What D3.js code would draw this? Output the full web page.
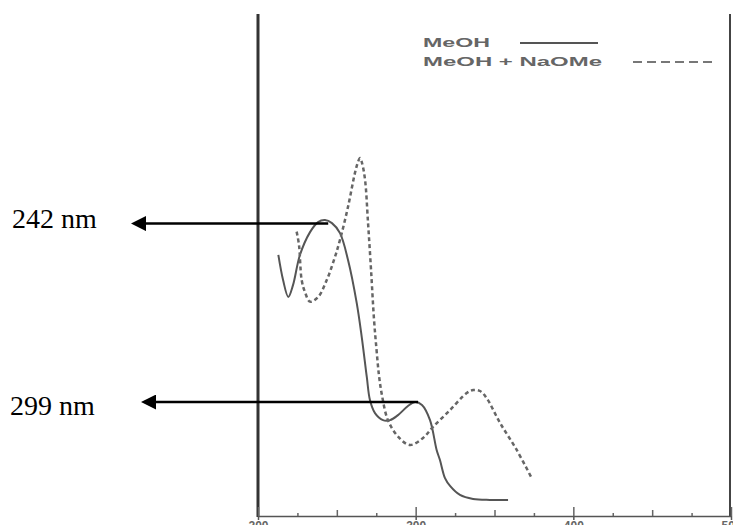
<!DOCTYPE html>
<html>
<head>
<meta charset="utf-8">
<script src="https://cdn.jsdelivr.net/npm/d3@7"></script>
<style>
  html, body { margin: 0; padding: 0; background: #fff; }
  svg { display: block; }
</style>
</head>
<body>
<svg id="chart" width="733" height="525"></svg>
<script>
// ---- data ----
const majorTicks = [200, 300, 400, 500];
const midTicks = [250, 350, 450];
const minorTicks = [225, 275, 325, 375, 425, 475];

// MeOH (solid)
const meohNm  = [212.9, 215.9, 219.2, 222.2, 226.6, 233.0, 238.1, 242.5, 246.9, 252.0, 257.1, 262.6, 265.8, 269.0, 271.0, 274.2, 279.3, 283.7, 288.8, 295.1, 299.6, 304.0, 309.1, 313.3, 315.4, 318.6, 321.8, 328.1, 336.4, 347.1, 358.6];
const meohAbs = [1.04, 0.94, 0.873, 0.92, 1.04, 1.131, 1.171, 1.179, 1.167, 1.127, 1.02, 0.849, 0.713, 0.554, 0.462, 0.41, 0.382, 0.382, 0.402, 0.438, 0.454, 0.442, 0.382, 0.263, 0.223, 0.151, 0.12, 0.084, 0.068, 0.064, 0.064];

// MeOH + NaOMe (dashed)
const naomeNm  = [224.5, 226.0, 227.7, 229.8, 233.0, 238.1, 243.6, 248.2, 252.0, 257.1, 261.5, 263.4, 264.7, 266.0, 267.9, 269.8, 271.7, 273.6, 275.2, 276.7, 278.6, 282.4, 289.0, 296.4, 304.7, 311.0, 321.8, 332.4, 336.6, 340.8, 345.0, 353.5, 364.1, 373.6];
const naomeAbs = [1.133, 1.08, 0.94, 0.892, 0.854, 0.872, 0.94, 1.02, 1.10, 1.232, 1.367, 1.41, 1.426, 1.406, 1.339, 1.167, 0.98, 0.781, 0.661, 0.562, 0.482, 0.382, 0.315, 0.283, 0.311, 0.355, 0.422, 0.49, 0.502, 0.498, 0.47, 0.371, 0.263, 0.151];

const seriesNames = ["MeOH", "MeOH + NaOMe"];
const annotLabels = ["242 nm", "299 nm"];
const annotNm = [242, 299];
const annotAbs = [1.165, 0.454];

// ---- layout ----
const svg = d3.select("#chart");
const x = d3.scaleLinear().domain([200, 500]).range([258, 731]);
const y = d3.scaleLinear().domain([0, 2]).range([516, 14]);

// frame: thick left axis, right border
svg.append("line").attr("x1", x(200)).attr("x2", x(200)).attr("y1", y(2)).attr("y2", y(0) + 1)
  .attr("stroke", "#333").attr("stroke-width", 3);
svg.append("line").attr("x1", 730).attr("x2", 730).attr("y1", y(2)).attr("y2", y(0) + 1)
  .attr("stroke", "#444").attr("stroke-width", 2);

// bottom axis with labels
const axG = svg.append("g").attr("transform", `translate(0,${y(0)})`);
axG.call(d3.axisBottom(x).tickValues(majorTicks).tickSizeInner(4).tickSizeOuter(0).tickPadding(1).tickFormat(d3.format("d")));
axG.select(".domain").attr("stroke", "#555").attr("stroke-width", 1.5);
axG.selectAll(".tick line").attr("stroke", "#555").attr("stroke-width", 1.5);
axG.selectAll(".tick text").attr("font-family", "Liberation Sans, Arial, sans-serif")
  .attr("font-size", 12).attr("font-weight", "bold").attr("fill", "#666");

function upTicks(vals, len) {
  const g = svg.append("g").attr("transform", `translate(0,${y(0)})`);
  g.call(d3.axisBottom(x).tickValues(vals).tickSizeInner(-len).tickSizeOuter(0).tickFormat(""));
  g.select(".domain").remove();
  g.selectAll(".tick line").attr("stroke", "#666").attr("stroke-width", 1.5);
}
upTicks(majorTicks, 9);
upTicks(midTicks, 6);
upTicks(minorTicks, 3);

// curves
const line = d3.line().x(d => x(d[0])).y(d => y(d[1])).curve(d3.curveCatmullRom.alpha(0.5));
svg.append("path").datum(d3.zip(meohNm, meohAbs)).attr("d", line)
  .attr("fill", "none").attr("stroke", "#555").attr("stroke-width", 2);
svg.append("path").datum(d3.zip(naomeNm, naomeAbs)).attr("d", line)
  .attr("fill", "none").attr("stroke", "#666").attr("stroke-width", 2.5).attr("stroke-dasharray", "4,3");

// legend
const leg = svg.append("g");
const legText = [[423, 47, 67], [423, 66, 179]];
seriesNames.forEach((name, i) => {
  leg.append("text").attr("x", legText[i][0]).attr("y", legText[i][1])
    .attr("textLength", legText[i][2]).attr("lengthAdjust", "spacingAndGlyphs")
    .attr("font-family", "Liberation Sans, Arial, sans-serif").attr("font-size", 12).attr("font-weight", "bold")
    .attr("fill", "#666").text(name);
});
leg.append("line").attr("x1", 520).attr("x2", 598).attr("y1", 43).attr("y2", 43)
  .attr("stroke", "#555").attr("stroke-width", 2);
leg.append("line").attr("x1", 633).attr("x2", 713).attr("y1", 62).attr("y2", 62)
  .attr("stroke", "#777").attr("stroke-width", 2).attr("stroke-dasharray", "9,5");

// annotation arrows
const defs = svg.append("defs");
defs.append("marker").attr("id", "ah").attr("viewBox", "0 0 10 10").attr("refX", 0).attr("refY", 5)
  .attr("markerWidth", 6).attr("markerHeight", 6).attr("markerUnits", "strokeWidth").attr("orient", "auto-start-reverse")
  .append("path").attr("d", "M0,0 L10,5 L0,10 Z").attr("fill", "#000");

const arrowTip = [132, 142];
const labelX = [12, 10];
annotLabels.forEach((lab, i) => {
  const yy = y(annotAbs[i]);
  svg.append("line").attr("x1", x(annotNm[i]) + 4).attr("x2", arrowTip[i] + 14).attr("y1", yy).attr("y2", yy)
    .attr("stroke", "#000").attr("stroke-width", 2.5).attr("marker-end", "url(#ah)");
  svg.append("text").attr("x", labelX[i]).attr("y", yy + 4 + (i === 0 ? 0 : 9))
    .attr("font-family", "Liberation Serif, Times New Roman, serif").attr("font-size", 28)
    .attr("fill", "#000").text(lab);
});
</script>
</body>
</html>
